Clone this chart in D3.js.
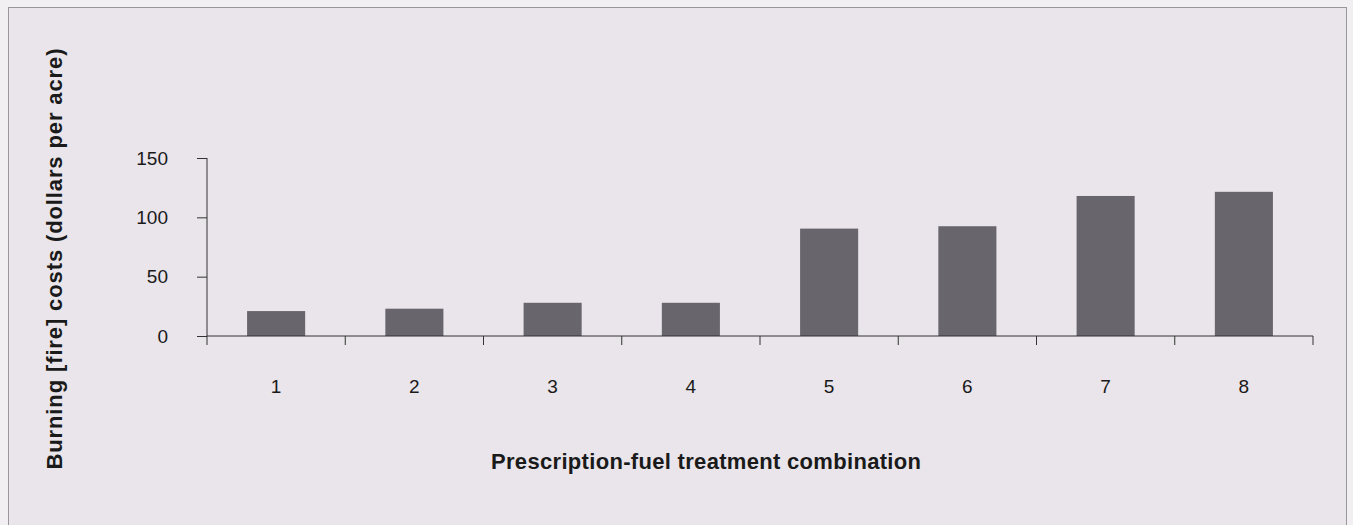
<!DOCTYPE html>
<html>
<head>
<meta charset="utf-8">
<script src="https://cdn.jsdelivr.net/npm/d3@7"></script>
<style>
  html, body { margin: 0; padding: 0; background: #f1eff2; }
  svg { display: block; font-family: "Liberation Sans", Arial, sans-serif; }
</style>
</head>
<body>
<svg id="chart" width="1353" height="525"></svg>
<script>
// treatment combinations and burning costs (dollars per acre)
const combos = ["1", "2", "3", "4", "5", "6", "7", "8"];
const costs = [21, 23, 28, 28, 90.5, 92.5, 118, 121.5];
const yTicks = [0, 50, 100, 150];

const svg = d3.select("#chart");

// panel frame
svg.append("rect")
    .attr("x", 8.5).attr("y", 7.5)
    .attr("width", 1338).attr("height", 530)
    .attr("fill", "#e9e5ea")
    .attr("stroke", "#9a979c").attr("stroke-width", 1);

const x = d3.scaleBand().domain(combos).range([207, 1313]).paddingInner(0.58).paddingOuter(0.29);
const y = d3.scaleLinear().domain([0, 150]).range([336, 158]);

// bars
svg.append("g").selectAll("rect")
    .data(costs)
    .join("rect")
    .attr("x", (d, i) => x(combos[i]))
    .attr("y", d => y(d))
    .attr("width", x.bandwidth())
    .attr("height", d => y(0) - y(d))
    .attr("fill", "#69656c");

// y axis
const yAxis = svg.append("g")
    .attr("transform", "translate(207,0)")
    .call(d3.axisLeft(y).tickValues(yTicks).tickSize(10).tickPadding(29));
yAxis.select(".domain").attr("d", "M0,158V345");
yAxis.selectAll("line").attr("stroke", "#333");
yAxis.selectAll("text").attr("font-size", 19).attr("fill", "#1a1a1a");

// x axis: ticks sit between categories
const bounds = d3.range(combos.length + 1).map(i => 207 + i * (1313 - 207) / combos.length);
const xAxis = svg.append("g").attr("transform", "translate(0,336)");
xAxis.append("path").attr("d", "M207,0H1313").attr("stroke", "#333").attr("fill", "none");
xAxis.selectAll("line").data(bounds.slice(1)).join("line")
    .attr("x1", d => d).attr("x2", d => d)
    .attr("y1", 0).attr("y2", 9).attr("stroke", "#333");
xAxis.selectAll("text").data(combos).join("text")
    .attr("x", d => x(d) + x.bandwidth() / 2)
    .attr("y", 57)
    .attr("text-anchor", "middle")
    .attr("font-size", 19).attr("fill", "#1a1a1a")
    .text(d => d);
svg.selectAll(".domain").attr("stroke", "#333");

// axis titles
svg.append("text")
    .attr("x", 706).attr("y", 469)
    .attr("text-anchor", "middle")
    .attr("font-size", 22).attr("font-weight", "bold").attr("fill", "#1a1a1a")
    .attr("textLength", 430).attr("lengthAdjust", "spacing")
    .text("Prescription-fuel treatment combination");

svg.append("text")
    .attr("transform", "translate(62,259) rotate(-90)")
    .attr("text-anchor", "middle")
    .attr("font-size", 22).attr("font-weight", "bold").attr("fill", "#1a1a1a")
    .attr("textLength", 421).attr("lengthAdjust", "spacing")
    .text("Burning [fire] costs (dollars per acre)");
</script>
</body>
</html>
